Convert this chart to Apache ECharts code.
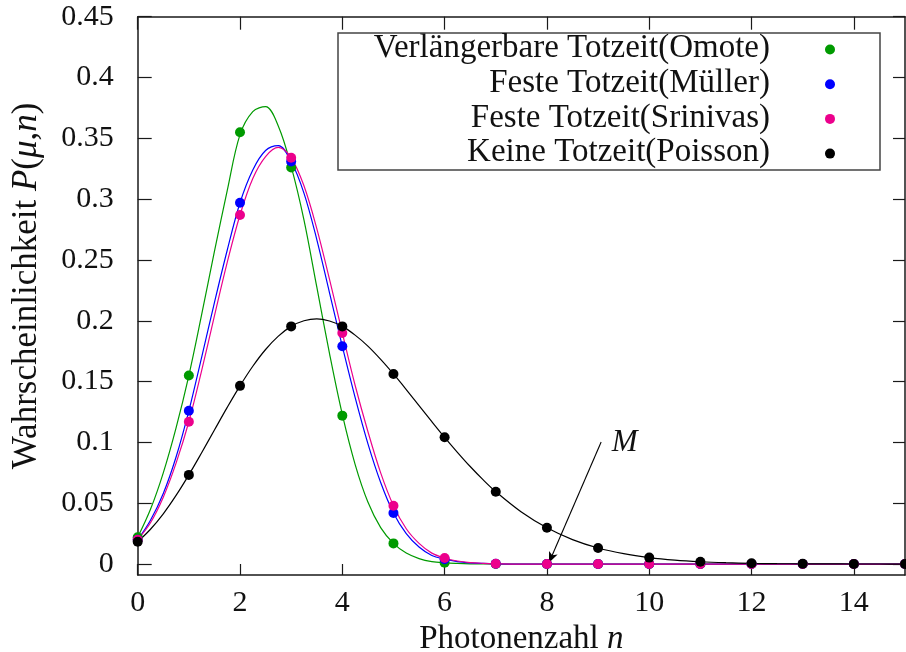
<!DOCTYPE html>
<html>
<head>
<meta charset="utf-8">
<script src="https://cdn.jsdelivr.net/npm/echarts@6/dist/echarts.min.js"></script>
<style>html,body{margin:0;padding:0;background:#fff}#c{width:906px;height:652px}</style>
</head>
<body>
<div id="c"></div>
<script>
// ---- data ----
const nValues = [0,1,2,3,4,5,6,7,8,9,10,11,12,13,14,15];
const omoteDots    = [0.022,0.155,0.355,0.326,0.122,0.017,0.001,0,0,0,0,0,0,0,0,0];
const muellerDots  = [0.020,0.126,0.297,0.331,0.179,0.042,0.004,0.0002,0,0,0,0,0,0,0,0];
const srinivasDots = [0.020,0.117,0.287,0.334,0.190,0.048,0.005,0.0003,0,0,0,0,0,0,0,0];
const poissonDots  = [0.0183,0.0733,0.1465,0.1954,0.1954,0.1563,0.1042,0.0595,0.0298,0.0132,0.0053,0.0019,0.0006,0.0002,0.0001,0.00002];

const curveX = [0,0.25,0.5,0.75,1,1.25,1.5,1.75,2,2.25,2.5,2.75,3,3.25,3.5,3.75,4,4.25,4.5,4.75,5,5.25,5.5,5.75,6,6.25,6.5,6.75,7,
                7.5,8,8.5,9,9.5,10,10.5,11,11.5,12,12.5,13,13.5,14,14.5,15];
const omoteCurve = [0.022,0.045,0.075,0.112,0.155,0.205,0.257,0.307,0.353,0.372,0.376,0.360,0.327,0.283,0.228,0.173,0.123,0.082,0.051,0.030,0.017,0.009,0.0045,0.002,0.001,0.0005,0.0002,0.0001,0,
                    0,0,0,0,0,0,0,0,0,0,0,0,0,0,0,0];
const muellerCurve = [0.020,0.036,0.058,0.088,0.126,0.170,0.215,0.258,0.297,0.324,0.340,0.344,0.331,0.305,0.267,0.223,0.179,0.137,0.099,0.067,0.042,0.025,0.014,0.007,0.004,0.002,0.001,0.0005,0.0002,
                      0,0,0,0,0,0,0,0,0,0,0,0,0,0,0,0];
const srinivasCurve = [0.020,0.034,0.055,0.083,0.117,0.159,0.204,0.248,0.287,0.317,0.335,0.3425,0.334,0.311,0.276,0.234,0.190,0.147,0.109,0.075,0.048,0.029,0.017,0.009,0.005,0.0025,0.0012,0.0006,0.0003,
                       0,0,0,0,0,0,0,0,0,0,0,0,0,0,0,0];
const poissonCurve = [0.0183,0.0286,0.0413,0.0564,0.0733,0.0915,0.1102,0.1288,0.1465,0.1626,0.1764,0.1874,0.1954,0.2000,0.2016,0.1998,0.1954,0.1882,0.1792,0.1683,0.1563,0.1435,0.1303,0.1171,0.1042,0.0919,0.0802,0.0694,0.0595,
                      0.0428,0.0298,0.0201,0.0132,0.0085,0.0053,0.0032,0.0019,0.0011,0.0006,0.0003,0.0002,0.0001,0.00005,0.00003,0.00001];

const xTickValues = [0,2,4,6,8,10,12,14];
const yTickValues = [0,0.05,0.1,0.15,0.2,0.25,0.3,0.35,0.4,0.45];
const legendNames = ['Verlängerbare Totzeit(Omote)','Feste Totzeit(Müller)','Feste Totzeit(Srinivas)','Keine Totzeit(Poisson)'];
const colors = ['#009a00','#0000ff','#ec008c','#000000'];
const arrowFrom = [9.06, 0.1003];
const arrowTo = [8.04, 0.001];
const labelM = [9.52, 0.0995];

// ---- chart ----
const FONT = '"Liberation Serif", "Times New Roman", serif';
const chart = echarts.init(document.getElementById('c'), null, {renderer:'canvas'});

function pairs(xs, ys){ return xs.map((x,i)=>[x, ys[i]]); }

const curves = [omoteCurve, muellerCurve, srinivasCurve, poissonCurve];
const dots = [omoteDots, muellerDots, srinivasDots, poissonDots];

const series = [];
curves.forEach((c,i)=>{
  series.push({
    type:'line', name: legendNames[i]+' curve', data: pairs(curveX, c),
    showSymbol:false, smooth:0.35, clip:true, silent:true,
    lineStyle:{color:colors[i], width:1.2}, z:2
  });
});
dots.forEach((d,i)=>{
  series.push({
    type:'scatter', name: legendNames[i], data: pairs(nValues, d),
    symbol:'circle', symbolSize:10, itemStyle:{color:colors[i], opacity:1}, z:3+i, clip:false
  });
});
// arrow + M label annotation
series.push({
  type:'line', data:[], silent:true,
  markLine:{
    silent:true, animation:false,
    symbol:['none','arrow'], symbolSize:[7,11],
    lineStyle:{color:'#000', width:1.1, type:'solid'},
    label:{show:false},
    data:[[{coord:arrowFrom},{coord:arrowTo}]]
  },
  markPoint:{
    silent:true, animation:false,
    data:[{coord:labelM, symbol:'circle', symbolSize:1, itemStyle:{color:'rgba(0,0,0,0)'},
      label:{show:true, position:'inside', formatter:'M', fontFamily:FONT, fontStyle:'italic', fontSize:31, color:'#111'}}]
  }
});

const axisLineStyle = {color:'#1a1a1a', width:1.5};
const tickStyle = {color:'#1a1a1a', width:1.2};

const legendRows = [48.5, 83.2, 117.9, 152.6];
const graphics = [{
  type:'rect', shape:{x:338, y:33, width:542, height:137},
  style:{fill:'#fff', stroke:'#444', lineWidth:1.5}, z:10
}];
legendNames.forEach((nm,i)=>{
  graphics.push({type:'text', x:770, y:legendRows[i], z:11,
    style:{text:nm, fontFamily:FONT, fontSize:33, fill:'#111', align:'right', verticalAlign:'middle'}});
  graphics.push({type:'circle', shape:{cx:830, cy:legendRows[i]+1, r:5}, style:{fill:colors[i]}, z:11});
});

const italicX = {fontFamily:FONT, fontStyle:'italic', fontSize:33, color:'#111'};
const italicY = {fontFamily:FONT, fontStyle:'italic', fontSize:35, color:'#111'};

chart.setOption({
  animation:false,
  backgroundColor:'#fff',
  grid:{left:137.7, top:16.7, right:1, bottom:77, containLabel:false, outerBoundsMode:'none'},
  xAxis:[{
    type:'value', min:0, max:15, position:'bottom',
    name:'Photonenzahl {i|n}', nameLocation:'middle', nameGap:37,
    nameTextStyle:{fontFamily:FONT, fontSize:33, color:'#111', rich:{i:italicX}},
    axisLine:{show:true, onZero:false, lineStyle:axisLineStyle},
    axisTick:{show:true, inside:true, length:11, lineStyle:tickStyle, customValues:xTickValues},
    axisLabel:{show:true, margin:13, fontFamily:FONT, fontSize:30, color:'#111', customValues:xTickValues},
    splitLine:{show:false}
  },{
    type:'value', min:0, max:15, position:'top',
    axisLine:{show:true, onZero:false, lineStyle:axisLineStyle},
    axisTick:{show:true, inside:true, length:13, lineStyle:tickStyle, customValues:xTickValues},
    axisLabel:{show:false}, splitLine:{show:false}
  }],
  yAxis:[{
    type:'value', min:-0.009, max:0.45, position:'left',
    name:'Wahrscheinlichkeit {i|P}({i|\u03bc},{i|n})', nameLocation:'middle', nameGap:93,
    nameTextStyle:{fontFamily:FONT, fontSize:35, color:'#111', rich:{i:italicY}, padding:[0,0,0,20]},
    axisLine:{show:true, onZero:false, lineStyle:axisLineStyle},
    axisTick:{show:true, inside:true, length:14, lineStyle:tickStyle, customValues:yTickValues},
    axisLabel:{show:true, margin:24, fontFamily:FONT, fontSize:30, color:'#111', customValues:yTickValues,
      formatter:(v)=>String(v)},
    splitLine:{show:false}
  },{
    type:'value', min:-0.009, max:0.45, position:'right',
    axisLine:{show:true, onZero:false, lineStyle:axisLineStyle},
    axisTick:{show:true, inside:true, length:12, lineStyle:tickStyle, customValues:yTickValues},
    axisLabel:{show:false}, splitLine:{show:false}
  }],
  graphic:graphics,
  series:series
});
</script>
</body>
</html>
